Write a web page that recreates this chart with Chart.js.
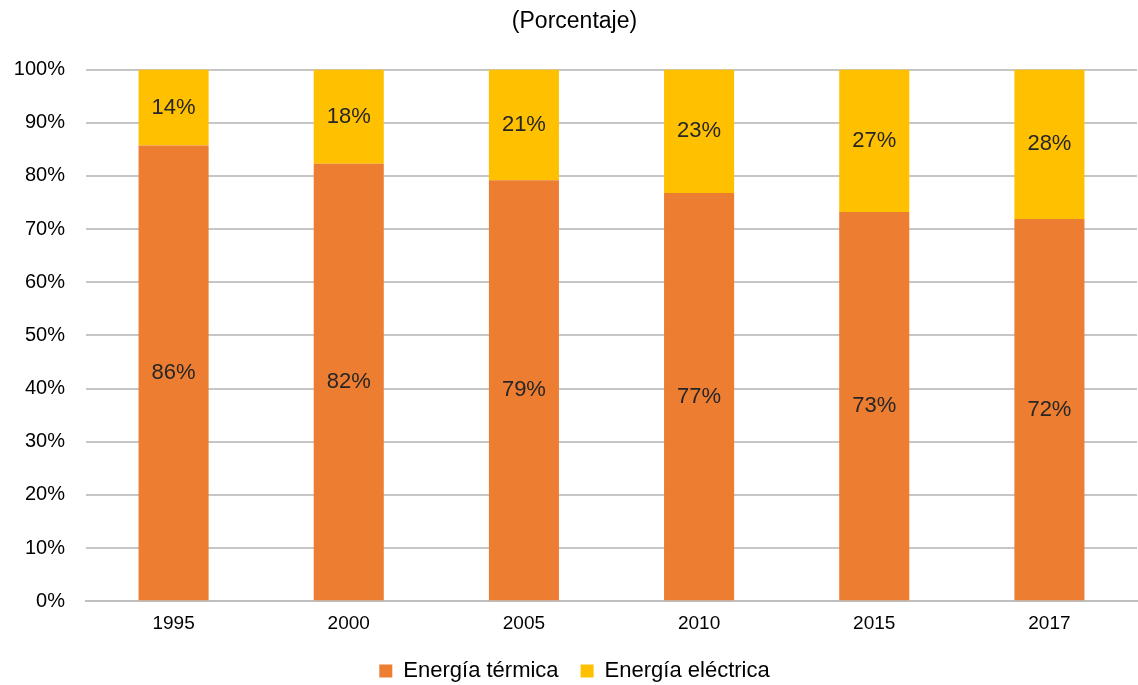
<!DOCTYPE html>
<html>
<head>
<meta charset="utf-8">
<script src="https://cdn.jsdelivr.net/npm/chart.js@4"></script>
<style>
  html, body { margin: 0; padding: 0; background: #fff; overflow: hidden; }
  #wrap { width: 1138px; height: 692px; }
</style>
</head>
<body>
<div id="wrap"><canvas id="energyChart"></canvas></div>
<script>
const years = ['1995', '2000', '2005', '2010', '2015', '2017'];
const termica = [85.7, 82.3, 79.2, 76.8, 73.2, 71.9];
const electrica = [14.3, 17.7, 20.8, 23.2, 26.8, 28.1];
const termicaLabels = ['86%', '82%', '79%', '77%', '73%', '72%'];
const electricaLabels = ['14%', '18%', '21%', '23%', '27%', '28%'];

const FONT = "'Liberation Sans', Arial, sans-serif";

// etiquetas en el centro de cada segmento
const centerLabels = {
    id: 'centerLabels',
    afterDatasetsDraw(chart) {
        const ctx = chart.ctx;
        const lists = [termicaLabels, electricaLabels];
        ctx.save();
        ctx.font = '22px ' + FONT;
        ctx.fillStyle = '#262626';
        ctx.textAlign = 'center';
        ctx.textBaseline = 'middle';
        chart.data.datasets.forEach((ds, i) => {
            chart.getDatasetMeta(i).data.forEach((bar, j) => {
                const p = bar.getCenterPoint();
                ctx.fillText(lists[i][j], p.x, p.y);
            });
        });
        ctx.restore();
    }
};

document.addEventListener("DOMContentLoaded", function () {
    const ctx = document.getElementById('energyChart').getContext('2d');
    new Chart(ctx, {
        type: 'bar',
        data: {
            labels: years,
            datasets: [{
                label: 'Energía térmica',
                data: termica,
                backgroundColor: '#ED7D31',
                barPercentage: 0.8,
                categoryPercentage: 0.5
            }, {
                label: 'Energía eléctrica',
                data: electrica,
                backgroundColor: '#FFC000',
                barPercentage: 0.8,
                categoryPercentage: 0.5
            }]
        },
        options: {
            responsive: true,
            maintainAspectRatio: false,
            animation: false,
            layout: { padding: { left: 12, right: 1, top: 4, bottom: 0 } },
            plugins: {
                title: {
                    display: true,
                    text: '(Porcentaje)',
                    color: '#000',
                    font: { family: FONT, size: 23, weight: 'normal' },
                    padding: { top: 4, bottom: 34 }
                },
                legend: {
                    position: 'bottom',
                    labels: {
                        color: '#000',
                        font: { family: FONT, size: 22 },
                        boxWidth: 13,
                        boxHeight: 13,
                        padding: 22
                    }
                },
                tooltip: { enabled: false }
            },
            scales: {
                x: {
                    stacked: true,
                    grid: { display: false },
                    border: { color: '#bfbfbf', width: 2 },
                    ticks: {
                        color: '#000',
                        font: { family: FONT, size: 19 },
                        padding: 3
                    }
                },
                y: {
                    stacked: true,
                    min: 0,
                    max: 100,
                    grid: { color: '#c6c6c6', lineWidth: 2, drawTicks: false },
                    border: { display: false },
                    afterFit: scale => { scale.width = 74; },
                    ticks: {
                        stepSize: 10,
                        color: '#000',
                        font: { family: FONT, size: 20 },
                        padding: 21,
                        callback: v => v + '%'
                    }
                }
            }
        },
        plugins: [centerLabels]
    });
});
</script>
</body>
</html>
